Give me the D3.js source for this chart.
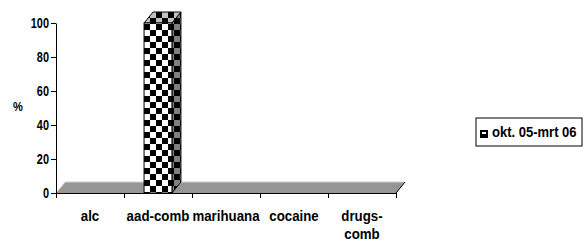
<!DOCTYPE html>
<html>
<head>
<meta charset="utf-8">
<script src="https://cdn.jsdelivr.net/npm/d3@7"></script>
<style>
  body { margin: 0; background: #fff; }
  svg text { font-family: "Liberation Sans", Arial, sans-serif; font-weight: bold; fill: #000; }
</style>
</head>
<body>
<svg id="chart"></svg>
<script>
// Data
const categories = ["alc", "aad-comb", "marihuana", "cocaine", "drugs-comb"];
const xLabels = [["alc"], ["aad-comb"], ["marihuana"], ["cocaine"], ["drugs-", "comb"]];
const values = [0, 100, 0, 0, 0];
const yTicks = [0, 20, 40, 60, 80, 100];
const seriesName = "okt. 05-mrt 06";
const yTitle = "%";

// Chart dimensions
const width = 587;
const height = 248;
const plotLeft = 56, plotRight = 396, plotTop = 23, plotBottom = 193;
const dx = 9, dy = -11; // 3d depth offset
const narrow = 0.95; // the original text is a slightly squeezed Arial

const svg = d3.select("#chart")
  .attr("width", width)
  .attr("height", height);

// Patterns
const defs = svg.append("defs");
function checker(id, bg, fg, s) {
  const p = defs.append("pattern")
    .attr("id", id)
    .attr("patternUnits", "userSpaceOnUse")
    .attr("width", s * 2)
    .attr("height", s * 2);
  p.append("rect").attr("width", s * 2).attr("height", s * 2).attr("fill", bg);
  p.append("rect").attr("width", s).attr("height", s).attr("fill", fg);
  p.append("rect").attr("x", s).attr("y", s).attr("width", s).attr("height", s).attr("fill", fg);
}
checker("front", "#fff", "#000", 6);
checker("side", "#808080", "#000", 6);
checker("topface", "#c0c0c0", "#000", 6);

// Scales
const x = d3.scaleBand()
  .domain(categories)
  .range([plotLeft, plotRight])
  .paddingInner(0.59)
  .paddingOuter(0.295);

const xEdges = d3.scaleLinear()
  .domain([0, categories.length])
  .range([plotLeft, plotRight]);

const y = d3.scaleLinear()
  .domain([0, 100])
  .range([plotBottom, plotTop]);

// Floor
const y0 = y(0);
svg.append("polygon")
  .attr("points", [[plotLeft, y0], [plotRight, y0], [plotRight + dx, y0 + dy], [plotLeft + dx, y0 + dy]].join(" "))
  .attr("fill", "#969696");
svg.append("line")
  .attr("x1", plotLeft + dx).attr("y1", y0 + dy)
  .attr("x2", plotRight + dx).attr("y2", y0 + dy)
  .attr("stroke", "#d0d0d0");
svg.append("line")
  .attr("x1", plotLeft).attr("y1", y0)
  .attr("x2", plotLeft + dx).attr("y2", y0 + dy)
  .attr("stroke", "#e6e6e6");
svg.append("line")
  .attr("x1", plotRight).attr("y1", y0)
  .attr("x2", plotRight + dx).attr("y2", y0 + dy)
  .attr("stroke", "#000");

// Bars
const bars = svg.selectAll(".bar")
  .data(categories.map((c, i) => ({ c, v: values[i] })).filter(d => d.v > 0))
  .enter()
  .append("g")
  .attr("class", "bar");

bars.append("polygon")
  .attr("points", d => {
    const x1 = x(d.c) + x.bandwidth(), yt = y(d.v);
    return [[x1, yt], [x1 + dx, yt + dy], [x1 + dx, y0 + dy], [x1, y0]].join(" ");
  })
  .attr("fill", "url(#side)")
  .attr("stroke", "#000");

bars.append("polygon")
  .attr("points", d => {
    const x0 = x(d.c), x1 = x0 + x.bandwidth(), yt = y(d.v);
    return [[x0, yt], [x0 + dx, yt + dy], [x1 + dx, yt + dy], [x1, yt]].join(" ");
  })
  .attr("fill", "url(#topface)")
  .attr("stroke", "#000");

bars.append("rect")
  .attr("x", d => x(d.c))
  .attr("y", d => y(d.v))
  .attr("width", x.bandwidth())
  .attr("height", d => y0 - y(d.v))
  .attr("fill", "url(#front)")
  .attr("stroke", "#000");

// Y axis
const yAxis = svg.append("g")
  .attr("transform", `translate(${plotLeft},0)`)
  .call(d3.axisLeft(y).tickValues(yTicks).tickSize(5).tickSizeOuter(0));
yAxis.select(".domain").attr("stroke", "#000");
yAxis.selectAll("text")
  .attr("font-size", 14)
  .attr("transform", "scale(0.78,1)")
  .attr("x", -7 / 0.78);

// X axis (ticks at category edges)
const xAxis = svg.append("g")
  .attr("transform", `translate(0,${y0})`)
  .call(d3.axisBottom(xEdges).ticks(categories.length).tickSize(5).tickSizeOuter(0).tickFormat(""));
xAxis.select(".domain").attr("stroke", "#000");

// X labels
svg.selectAll(".xlabel")
  .data(categories)
  .enter()
  .append("text")
  .attr("class", "xlabel")
  .attr("text-anchor", "middle")
  .attr("font-size", 14)
  .attr("transform", d => `translate(${x(d) + x.bandwidth() / 2},221) scale(${narrow},1)`)
  .selectAll("tspan")
  .data((d, i) => xLabels[i])
  .enter()
  .append("tspan")
  .attr("x", 0)
  .attr("dy", (d, i) => i === 0 ? 0 : 18)
  .text(d => d);

// Y title
svg.append("text")
  .attr("transform", "translate(18,111) scale(0.85,1)")
  .attr("text-anchor", "middle")
  .attr("font-size", 13)
  .text(yTitle);

// Legend
const legend = svg.append("g").attr("transform", "translate(476,118)");
legend.append("rect")
  .attr("width", 106)
  .attr("height", 28)
  .attr("fill", "#fff")
  .attr("stroke", "#000");
const sw = legend.append("g").attr("transform", "translate(4.5,12.5)");
sw.append("rect")
  .attr("width", 7).attr("height", 7)
  .attr("fill", "#000")
  .attr("stroke", "#000");
sw.append("rect")
  .attr("x", 1.5).attr("y", 1.5)
  .attr("width", 4).attr("height", 2)
  .attr("fill", "#fff");
legend.append("text")
  .attr("transform", "translate(16,19) scale(0.93,1)")
  .attr("font-size", 14)
  .text(seriesName);
</script>
</body>
</html>
